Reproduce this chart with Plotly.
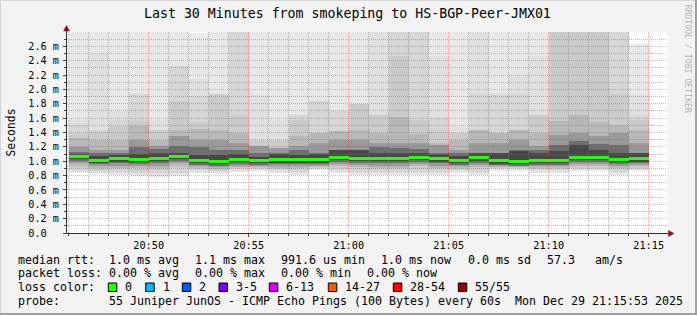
import plotly.graph_objects as go

# ---------------- data ----------------
DAY = "2025-12-29"
minutes = ["20:46", "20:47", "20:48", "20:49", "20:50", "20:51", "20:52", "20:53", "20:54", "20:55",
           "20:56", "20:57", "20:58", "20:59", "21:00", "21:01", "21:02", "21:03", "21:04", "21:05",
           "21:06", "21:07", "21:08", "21:09", "21:10", "21:11", "21:12", "21:13", "21:14"]

# median rtt per minute (ms)
median_ms = [1.060, 1.013, 1.032, 1.022, 1.036, 1.068, 1.011, 0.997, 1.022, 1.011,
             1.018, 1.018, 1.018, 1.053, 1.039, 1.036, 1.036, 1.050, 1.032, 1.008,
             1.046, 1.004, 0.992, 1.008, 1.008, 1.050, 1.050, 1.025, 1.032]

# smoke layers (outer -> inner): upper and lower bounds (ms)
up1 = [2.9, 2.9, 2.9, 2.9, 2.9, 2.9, 2.79, 2.9, 2.9, 2.9, 2.9, 2.9, 2.9, 2.9, 2.9,
       2.9, 2.9, 2.9, 2.9, 2.9, 2.9, 2.9, 2.9, 2.9, 2.9, 2.9, 2.9, 2.9, 2.63]
up2 = [1.58, 2.51, 1.70, 1.93, 1.58, 2.33, 2.14, 1.93, 2.9, 1.93, 1.58, 1.65, 1.84, 1.70, 1.80,
       2.9, 2.9, 2.9, 2.46, 1.47, 2.9, 1.93, 2.21, 2.47, 2.9, 2.9, 2.9, 2.9, 1.93]
up3 = [1.51, 1.44, 1.58, 1.93, 1.44, 2.33, 1.91, 1.93, 2.9, 1.30, 1.30, 1.65, 1.84, 1.70, 1.80,
       1.65, 2.9, 2.9, 1.60, 1.40, 1.93, 1.93, 1.93, 1.65, 2.9, 2.9, 2.9, 2.9, 1.65]
up4 = [1.40, 1.42, 1.49, 1.56, 1.44, 1.84, 1.55, 1.93, 1.65, 1.30, 1.30, 1.58, 1.40, 1.42, 1.80,
       1.65, 2.46, 1.58, 1.44, 1.40, 1.44, 1.40, 1.44, 1.65, 2.9, 2.9, 2.9, 1.93, 1.58]
up5 = [1.33, 1.30, 1.30, 1.49, 1.30, 1.44, 1.45, 1.44, 1.40, 1.21, 1.19, 1.35, 1.40, 1.42, 1.44,
       1.40, 1.62, 1.38, 1.26, 1.30, 1.44, 1.40, 1.44, 1.40, 1.56, 1.65, 1.55, 1.50, 1.44]
up6 = [1.20, 1.16, 1.16, 1.30, 1.21, 1.35, 1.30, 1.30, 1.26, 1.21, 1.19, 1.21, 1.26, 1.30, 1.30,
       1.26, 1.26, 1.26, 1.22, 1.16, 1.26, 1.26, 1.30, 1.21, 1.37, 1.40, 1.35, 1.40, 1.26]
up7 = [1.13, 1.11, 1.11, 1.20, 1.17, 1.21, 1.20, 1.16, 1.16, 1.12, 1.12, 1.16, 1.12, 1.16, 1.16,
       1.20, 1.19, 1.17, 1.12, 1.12, 1.12, 1.12, 1.16, 1.16, 1.22, 1.28, 1.24, 1.22, 1.12]
up8 = [1.10, 1.07, 1.08, 1.10, 1.11, 1.12, 1.08, 1.08, 1.10, 1.06, 1.10, 1.09, 1.10, 1.16, 1.16,
       1.12, 1.12, 1.12, 1.10, 1.07, 1.11, 1.12, 1.14, 1.12, 1.14, 1.22, 1.16, 1.12, 1.12]

lo1 = [0.835, 0.823, 0.81, 0.80, 0.785, 0.80, 0.84, 0.823, 0.85, 0.86, 0.84, 0.81, 0.873, 0.84, 0.81,
       0.81, 0.81, 0.81, 0.81, 0.84, 0.81, 0.87, 0.87, 0.84, 0.84, 0.86, 0.86, 0.81, 0.86]
lo2 = [0.85, 0.84, 0.83, 0.82, 0.80, 0.82, 0.855, 0.84, 0.865, 0.875, 0.855, 0.83, 0.885, 0.855, 0.83,
       0.83, 0.83, 0.83, 0.83, 0.855, 0.83, 0.885, 0.885, 0.855, 0.855, 0.875, 0.875, 0.83, 0.875]
lo3 = [0.87, 0.86, 0.85, 0.84, 0.83, 0.84, 0.875, 0.86, 0.885, 0.89, 0.875, 0.85, 0.90, 0.875, 0.85,
       0.85, 0.85, 0.85, 0.85, 0.875, 0.85, 0.90, 0.90, 0.875, 0.875, 0.89, 0.89, 0.85, 0.895]
lo4 = [0.91, 0.87, 0.88, 0.87, 0.88, 0.91, 0.89, 0.87, 0.90, 0.90, 0.89, 0.88, 0.91, 0.90, 0.89,
       0.88, 0.88, 0.89, 0.88, 0.88, 0.89, 0.91, 0.91, 0.89, 0.89, 0.90, 0.90, 0.88, 0.91]
lo5 = [0.94, 0.90, 0.91, 0.90, 0.91, 0.94, 0.91, 0.89, 0.92, 0.92, 0.91, 0.91, 0.93, 0.93, 0.92,
       0.91, 0.91, 0.93, 0.91, 0.90, 0.92, 0.92, 0.92, 0.91, 0.91, 0.93, 0.93, 0.91, 0.93]
lo6 = [0.97, 0.93, 0.94, 0.93, 0.94, 0.97, 0.93, 0.92, 0.94, 0.93, 0.93, 0.93, 0.94, 0.96, 0.95,
       0.94, 0.94, 0.96, 0.94, 0.93, 0.95, 0.94, 0.93, 0.93, 0.93, 0.96, 0.96, 0.94, 0.95]
lo7 = [1.00, 0.96, 0.97, 0.96, 0.97, 1.00, 0.95, 0.94, 0.96, 0.95, 0.96, 0.96, 0.96, 0.99, 0.98,
       0.97, 0.97, 0.99, 0.97, 0.95, 0.98, 0.95, 0.94, 0.95, 0.95, 0.99, 0.99, 0.96, 0.97]
lo8 = [1.025, 0.98, 0.995, 0.985, 1.00, 1.03, 0.975, 0.96, 0.985, 0.975, 0.98, 0.98, 0.98, 1.015, 1.00,
       1.00, 1.00, 1.015, 0.995, 0.97, 1.01, 0.965, 0.955, 0.97, 0.97, 1.015, 1.015, 0.99, 0.995]

smoke_colors = ["rgba(232,232,232,0.999)", "rgba(224,224,224,0.999)", "rgba(214,214,214,0.999)",
                "rgba(203,203,203,0.999)", "rgba(184,184,184,0.999)", "rgba(153,153,153,0.999)",
                "rgba(110,110,110,0.999)", "rgba(71,71,71,0.999)"]
median_color = "rgba(38,255,0,0.999)"

y_tickvals = [0.0, 0.2, 0.4, 0.6, 0.8, 1.0, 1.2, 1.4, 1.6, 1.8, 2.0, 2.2, 2.4, 2.6]
y_ticktext = ["0.0\u00a0\u00a0", "0.2 m", "0.4 m", "0.6 m", "0.8 m", "1.0 m", "1.2 m", "1.4 m",
              "1.6 m", "1.8 m", "2.0 m", "2.2 m", "2.4 m", "2.6 m"]
y_minorvals = [0.1, 0.3, 0.5, 0.7, 0.9, 1.1, 1.3, 1.5, 1.7, 1.9, 2.1, 2.3, 2.5, 2.7]

title_text = "Last 30 Minutes from smokeping to HS-BGP-Peer-JMX01"
loss_labels = ["0", "1", "2", "3-5", "6-13", "14-27", "28-54", "55/55"]
loss_colors = ["#26ff00", "#00b8ff", "#0059ff", "#7e00ff", "#dd00ff", "#ff5500", "#ff0000", "#a10000"]

row_median = ["median rtt:", "1.0 ms avg", "1.1 ms max", "991.6 us min", "1.0 ms now", "0.0 ms sd", "57.3", "am/s"]
row_loss = ["packet loss:", "0.00 % avg", "0.00 % max", "0.00 % min", "0.00 % now"]
row_probe = ["probe:", "55 Juniper JunOS - ICMP Echo Pings (100 Bytes) every 60s", "Mon Dec 29 21:15:53 2025"]

ups = [up1, up2, up3, up4, up5, up6, up7, up8]
lows = [lo1, lo2, lo3, lo4, lo5, lo6, lo7, lo8]
for arr in ups + lows + [median_ms]:
    assert len(arr) == len(minutes)

# ---------------- layout geometry ----------------
W, H = 697, 315
ML, MR, MT, MB = 67, 30, 32, 82
PW, PH = W - ML - MR, H - MT - MB


def px(x):
    return (x - ML) / PW


def py(y):
    return (H - MB - y) / PH


MONO = "DejaVu Sans Mono"
x_start = [f"{DAY} {m}:00" for m in minutes]
x_range = [f"{DAY} 20:45:55", f"{DAY} 21:15:55"]

fig = go.Figure()

# smoke (subplot 1)
for lo, up, col in zip(lows, ups, smoke_colors):
    fig.add_trace(go.Bar(
        x=x_start, y=[u - l for u, l in zip(up, lo)], base=lo,
        width=60000, offset=0, marker=dict(color=col, line=dict(width=0)),
        xaxis="x", yaxis="y", hoverinfo="skip", showlegend=False))

# grid holder (subplot 2)
fig.add_trace(go.Scatter(x=[], y=[], xaxis="x2", yaxis="y2", showlegend=False, hoverinfo="skip"))

# median (subplot 3)
MED_H = 0.042
fig.add_trace(go.Bar(
    x=x_start, y=[MED_H] * len(median_ms), base=[m - MED_H / 2 for m in median_ms],
    width=60000, offset=0, marker=dict(color=median_color, line=dict(width=0)),
    xaxis="x3", yaxis="y3", hoverinfo="skip", showlegend=False))

TICKC = "#404040"
FONT_T = dict(family=MONO, size=10.2, color="#000000")
GRID_MAJ = "rgba(225,40,40,0.38)"
GRID_MIN = "rgba(120,120,120,0.5)"
DASH = "1px,1px"

common_x = dict(type="date", range=x_range, domain=[0, 1], fixedrange=True, zeroline=False, showline=False)
common_y = dict(range=[0, 2.8], domain=[0, 1], fixedrange=True, zeroline=False, showline=False)

layout = dict(
    width=W, height=H, autosize=False,
    margin=dict(l=ML, r=MR, t=MT, b=MB, pad=0),
    paper_bgcolor="#f3f3f3", plot_bgcolor="rgba(0,0,0,0)",
    barmode="overlay", bargap=0, showlegend=False,
    xaxis=dict(**common_x, anchor="y", showgrid=False, ticks="outside", ticklen=3, tickcolor=TICKC,
               tickformat="%H:%M", tick0=f"{DAY} 20:50:00", dtick=300000, tickfont=FONT_T,
               minor=dict(dtick=60000, tick0=f"{DAY} 20:50:00", ticks="outside", ticklen=2,
                          tickcolor=TICKC, showgrid=False)),
    yaxis=dict(**common_y, anchor="x", showgrid=False, ticks="outside", ticklen=3, tickcolor=TICKC,
               tickmode="array", tickvals=y_tickvals, ticktext=y_ticktext, tickfont=FONT_T,
               ticklabelstandoff=2,
               minor=dict(tickmode="array", tickvals=y_minorvals, ticks="outside", ticklen=2,
                          tickcolor=TICKC, showgrid=False)),
    xaxis2=dict(**common_x, anchor="y2", showticklabels=False, ticks="",
                showgrid=True, gridcolor=GRID_MAJ, griddash=DASH, gridwidth=1,
                tick0=f"{DAY} 20:50:00", dtick=300000,
                minor=dict(dtick=60000, tick0=f"{DAY} 20:50:00", showgrid=True,
                           gridcolor=GRID_MIN, griddash=DASH, gridwidth=1, ticks="")),
    yaxis2=dict(**common_y, anchor="x2", showticklabels=False, ticks="",
                showgrid=True, gridcolor=GRID_MAJ, griddash=DASH, gridwidth=1,
                tickmode="array", tickvals=y_tickvals[1:],
                minor=dict(tickmode="array", tickvals=y_minorvals, showgrid=True,
                           gridcolor=GRID_MIN, griddash=DASH, gridwidth=1, ticks="")),
    xaxis3=dict(**common_x, anchor="y3", showticklabels=False, ticks="", showgrid=False),
    yaxis3=dict(**common_y, anchor="x3", showticklabels=False, ticks="", showgrid=False),
)
fig.update_layout(**layout)

shapes = []
# white canvas
shapes.append(dict(type="rect", xref="paper", yref="paper", x0=0, x1=1, y0=0, y1=1,
                   fillcolor="#ffffff", line=dict(width=0), layer="below"))
# axes with arrows
AX = "#303030"
ARROW = "#8b1010"
shapes.append(dict(type="line", xref="paper", yref="paper", x0=px(66.5), x1=px(66.5),
                   y0=py(233.5), y1=py(29), line=dict(color=AX, width=1), layer="above"))
shapes.append(dict(type="line", xref="paper", yref="paper", x0=px(66.5), x1=px(669),
                   y0=py(233.5), y1=py(233.5), line=dict(color=AX, width=1), layer="above"))
shapes.append(dict(type="path", xref="paper", yref="paper", layer="above",
                   path=f"M {px(66.5)},{py(25.5)} L {px(63.5)},{py(31)} L {px(69.5)},{py(31)} Z",
                   fillcolor=ARROW, line=dict(color=ARROW, width=0.5)))
shapes.append(dict(type="path", xref="paper", yref="paper", layer="above",
                   path=f"M {px(674)},{py(233.5)} L {px(668.5)},{py(230.5)} L {px(668.5)},{py(236.5)} Z",
                   fillcolor=ARROW, line=dict(color=ARROW, width=0.5)))
# 3D frame
shapes.append(dict(type="rect", xref="paper", yref="paper", x0=px(0), x1=px(W), y0=py(0), y1=py(1),
                   fillcolor="#d4d4d4", line=dict(width=0), layer="above"))
shapes.append(dict(type="rect", xref="paper", yref="paper", x0=px(0), x1=px(1), y0=py(0), y1=py(H),
                   fillcolor="#d4d4d4", line=dict(width=0), layer="above"))
shapes.append(dict(type="rect", xref="paper", yref="paper", x0=px(W - 2), x1=px(W), y0=py(0), y1=py(H),
                   fillcolor="#a0a0a0", line=dict(width=0), layer="above"))
shapes.append(dict(type="rect", xref="paper", yref="paper", x0=px(0), x1=px(W), y0=py(H - 2), y1=py(H),
                   fillcolor="#a0a0a0", line=dict(width=0), layer="above"))

annotations = []
FONT_L = dict(family=MONO, size=11.63, color="#000000")


def add_text(x, y, text, font=FONT_L, xanchor="left", angle=0):
    annotations.append(dict(text=text, x=px(x), y=py(y), xref="paper", yref="paper",
                            xanchor=xanchor, yanchor="middle", showarrow=False,
                            font=font, textangle=angle))


add_text(347.5, 14, title_text, font=dict(family=MONO, size=13.25, color="#000000"), xanchor="center")
add_text(10.5, 133, "Seconds", font=dict(family=MONO, size=11.4, color="#000000"), xanchor="center", angle=-90)
add_text(687.5, 59, "RRDTOOL / TOBI OETIKER", font=dict(family=MONO, size=8.2, color="#b4b4b4"),
         xanchor="center", angle=90)

for x, t in zip([16, 107.3, 193.3, 279.3, 379.3, 465.7, 544.7, 593.3], row_median):
    add_text(x, 259.5, t)
for x, t in zip([16, 107.3, 193.3, 279.3, 365.3], row_loss):
    add_text(x, 273, t)
add_text(16, 287, "loss color:")
box_left = [108.3, 145.7, 182.3, 219.0, 269.3, 328.3, 393.3, 458.3]
for bx, lab, col in zip(box_left, loss_labels, loss_colors):
    shapes.append(dict(type="rect", xref="paper", yref="paper", x0=px(bx), x1=px(bx + 8.5),
                       y0=py(291.5), y1=py(283), fillcolor=col, line=dict(color="#000000", width=1),
                       layer="above"))
    add_text(bx + 15, 287, lab)
for x, t in zip([16, 107.3, 512.7], row_probe):
    add_text(x, 301, t)

fig.update_layout(shapes=shapes, annotations=annotations)
fig.write_html("out.html")
